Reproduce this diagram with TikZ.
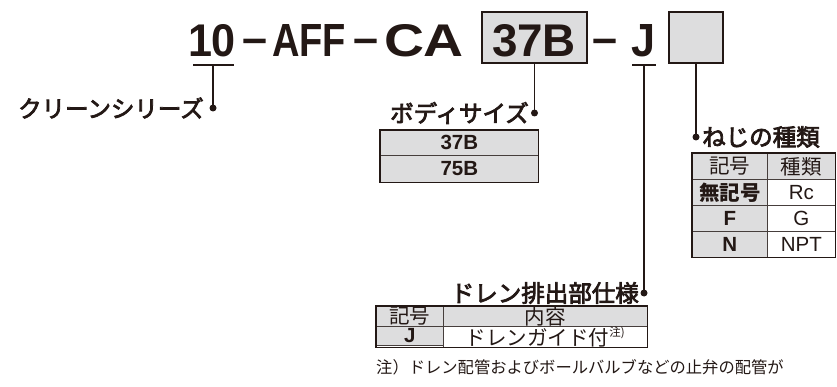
\documentclass[tikz,border=0pt]{standalone}
\usepackage{fontspec}
\usepackage{graphicx}
\setmainfont{Liberation Sans}
\newfontfamily\jp{Noto Sans CJK JP}
\newfontfamily\jph{Noto Sans CJK JP}[FakeBold=3.2]
\definecolor{ink}{RGB}{35,24,21}
\definecolor{fillg}{RGB}{221,221,222}
\definecolor{rule}{RGB}{70,62,60}
\begin{document}
\begin{tikzpicture}[x=1pt,y=-1pt,
  title/.style={inner sep=0, anchor=base, text=ink, font=\fontsize{45}{45}\selectfont\bfseries},
  codebox/.style={draw=ink, fill=fillg, line width=1.3pt, inner sep=0, minimum height=51pt},
  uline/.style={draw=ink, line width=1.3pt},
  conn/.style={draw=ink, line width=1.4pt},
  dotn/.style={circle, fill=ink, inner sep=0, minimum size=7pt},
  heading/.style={inner sep=0, text=ink, font=\jph\fontsize{23.5}{24}\selectfont},
  cell/.style={draw=rule, line width=0.7pt, inner sep=0, anchor=north west, text=ink},
  jpc/.style={font=\jp\fontsize{20.5}{20.5}\selectfont},
  jpcb/.style={font=\jp\bfseries\fontsize{20.5}{20.5}\selectfont},
  lat/.style={font=\fontsize{20.5}{20.5}\selectfont},
  latb/.style={font=\bfseries\fontsize{20.5}{20.5}\selectfont},
  outer/.style={draw=ink, line width=1.1pt}
]
\useasboundingbox (0,0) rectangle (837,387);

% ---- model code ----
\node[codebox, minimum width=105pt] (b37) at (534.5,37.5) {};
\node[codebox, minimum width=54pt] (eb) at (696,37.5) {};
\node[title] (t10) at (212,57) {\resizebox{48pt}{32pt}{10}};
\node[title] (d1) at (255,54) {–};
\node[title] (tAFF) at (309,57) {\resizebox{74pt}{32pt}{AFF}};
\node[title] (d2) at (366,54) {–};
\node[title] (tCA) at (424,57) {\resizebox{80pt}{32pt}{CA}};
\node[title] (t37) at (534,57) {\resizebox{84pt}{32pt}{37B}};
\node[title] (d3) at (605.5,54) {–};
\node[title] (tJ) at (643.5,57) {\resizebox{24pt}{32pt}{J}};

% underlines
\coordinate (u1a) at (193,65); \coordinate (u1b) at (234,65); \coordinate (u1m) at (213,65);
\coordinate (uJa) at (632,65); \coordinate (uJb) at (656,65); \coordinate (uJm) at (644,65);
\draw[uline] (u1a) -- (u1b);
\draw[uline] (uJa) -- (uJb);

% dots
\node[dotn] (p1) at (213,108) {};
\node[dotn] (p2) at (534.5,113) {};
\node[dotn] (p3) at (696,137) {};
\node[dotn] (p4) at (644,293) {};
\draw[conn] (u1m) -- (p1.center);
\draw[conn] (b37.south) -- (p2.center);
\draw[conn] (eb.south) -- (p3.center);
\draw[conn] (uJm) -- (p4.center);

% headings
\node[heading, anchor=east] (h1) at (204,108) {クリーンシリーズ};
\node[heading, anchor=east] (h2) at (529,113) {ボディサイズ};
\node[heading, anchor=west] (h3) at (702,137) {ねじの種類};
\node[heading, anchor=east] (h4) at (639,293) {ドレン排出部仕様};

% body size table
\node[cell, fill=fillg, latb, minimum width=158pt, minimum height=25pt] (bs1) at (380,130) {37B};
\node[cell, fill=fillg, latb, minimum width=158pt, minimum height=27pt] (bs2) at (380,155) {75B};
\draw[outer] (bs1.north west) rectangle (bs2.south east);

% thread table
\node[cell, fill=fillg, jpc, minimum width=75pt, minimum height=26pt] (n11) at (692,153) {記号};
\node[cell, fill=fillg, jpc, minimum width=68pt, minimum height=26pt] (n12) at (767,153) {種類};
\node[cell, fill=fillg, jpcb, minimum width=75pt, minimum height=26pt] (n21) at (692,179) {無記号};
\node[cell, fill=white, lat, minimum width=68pt, minimum height=26pt] (n22) at (767,179) {Rc};
\node[cell, fill=fillg, latb, minimum width=75pt, minimum height=26pt] (n31) at (692,205) {F};
\node[cell, fill=white, lat, minimum width=68pt, minimum height=26pt] (n32) at (767,205) {G};
\node[cell, fill=fillg, latb, minimum width=75pt, minimum height=26pt] (n41) at (692,231) {N};
\node[cell, fill=white, lat, minimum width=68pt, minimum height=26pt] (n42) at (767,231) {NPT};
\draw[outer] (n11.north west) rectangle (n42.south east);

% drain table
\node[cell, fill=fillg, jpc, minimum width=67pt, minimum height=20pt] (r11) at (376,306) {記号};
\node[cell, fill=fillg, jpc, minimum width=204pt, minimum height=20pt] (r12) at (443,306) {内容};
\node[cell, fill=fillg, latb, minimum width=67pt, minimum height=19pt] (r21) at (376,326) {J};
\node[cell, fill=white, jpc, minimum width=204pt, minimum height=19pt] (r22) at (443,326) {ドレンガイド付\raisebox{0.45em}{\fontsize{11.5}{11.5}\selectfont 注)}};
\draw[outer] (r11.north west) rectangle (r22.south east);

% note
\node[inner sep=0, anchor=west, text=ink, font=\jp\fontsize{16.3}{17}\selectfont] (note) at (376,367) {注）ドレン配管およびボールバルブなどの止弁の配管が};
\end{tikzpicture}
\end{document}
